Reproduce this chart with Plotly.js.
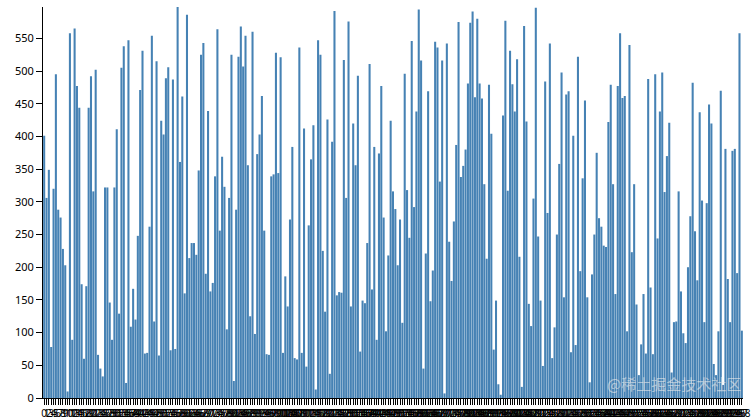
<!DOCTYPE html>
<html>
<head>
<meta charset="utf-8">
<script src="https://cdn.plot.ly/plotly-3.0.1.min.js"></script>
<style>html,body{margin:0;padding:0;background:#fff;}#chart{width:753px;height:419px;}</style>
</head>
<body>
<div id="chart"></div>
<script>
const values = [
401,306,349,78,320,495,288,276,228,203,10,558,89,565,477,444,174,60,171,444,492,316,502,66,45,33,322,322,146,89,322,411,129,505,538,23,547,109,167,120,248,471,531,68,69,262,554,117,515,65,424,403,489,506,73,487,75,598,361,461,160,586,214,237,237,219,348,525,543,190,439,
163,176,339,564,256,369,323,105,306,525,26,288,522,568,507,554,356,125,560,98,373,403,462,256,67,66,339,342,528,344,521,69,186,140,273,384,61,59,536,69,412,48,264,365,417,13,547,525,225,132,426,37,392,592,157,162,161,517,306,576,140,420,356,493,71,149,145,237,511,166,384,89,374,
477,276,102,218,424,316,289,203,273,115,496,318,245,546,292,438,594,516,45,221,469,148,195,545,536,331,516,7,542,239,179,270,387,575,338,355,380,481,574,591,460,580,481,458,327,213,479,404,74,149,21,5,432,577,317,531,480,438,518,216,17,569,423,144,110,305,597,247,149,49,484,283,542,61,108,250,358,
498,154,464,469,70,401,81,522,194,336,455,154,24,189,250,375,275,262,233,231,422,479,327,159,477,558,459,462,102,540,223,327,143,35,82,159,68,488,169,67,495,244,438,498,315,370,421,39,116,117,316,163,99,84,200,278,482,255,180,437,302,116,298,449,420,52,35,102,470,20,381,182,116,378,381,191,558,103
];
const categories = values.map((_, i) => String(i));
const yTicks = [0,50,100,150,200,250,300,350,400,450,500,550];
const watermark = "@稀土掘金技术社区";

const trace = {
  type: 'bar',
  x: categories,
  y: values,
  marker: {color: '#4682b4', line: {width: 0}},
  hoverinfo: 'x+y'
};

const layout = {
  width: 753, height: 419,
  margin: {l: 43, r: 10, t: 7, b: 21},
  paper_bgcolor: '#fff', plot_bgcolor: '#fff',
  bargap: 0.12,
  showlegend: false,
  font: {family: '"Noto Sans", "DejaVu Sans", sans-serif', color: '#000'},
  xaxis: {
    type: 'category',
    tickmode: 'linear', tick0: 0, dtick: 1,
    tickangle: 0,
    range: [-0.5, values.length - 0.5],
    showline: true, linecolor: '#000', linewidth: 1,
    ticks: 'outside', ticklen: 6, tickcolor: '#000', tickwidth: 1,
    tickfont: {size: 10, color: '#000'},
    showgrid: false, zeroline: false
  },
  yaxis: {
    range: [0, 598],
    tickmode: 'array', tickvals: yTicks, ticktext: yTicks.map(String),
    showline: true, linecolor: '#000', linewidth: 1,
    ticks: 'outside', ticklen: 6, tickcolor: '#000', tickwidth: 1,
    tickfont: {size: 11, color: '#000'},
    showgrid: false, zeroline: false
  },
  annotations: [{
    xref: 'paper', yref: 'paper', x: 1.0, y: 0.005, xanchor: 'right', yanchor: 'bottom',
    text: watermark, showarrow: false,
    font: {family: '"Noto Sans CJK SC", sans-serif', size: 15, color: 'rgba(235,235,235,0.6)'}
  }]
};

Plotly.newPlot('chart', [trace], layout, {displayModeBar: false, staticPlot: true});
</script>
</body>
</html>
